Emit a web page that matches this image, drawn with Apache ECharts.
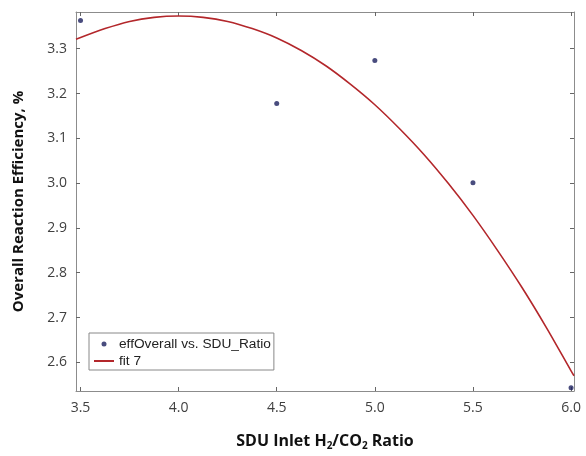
<!DOCTYPE html>
<html>
<head>
<meta charset="utf-8">
<script src="https://cdn.jsdelivr.net/npm/echarts@6/dist/echarts.min.js"></script>
<style>
  html, body { margin: 0; padding: 0; background: #fff; }
  #chart { width: 586px; height: 456px; }
</style>
</head>
<body>
<div id="chart"></div>
<script>
// measured points
const ratio = [3.5, 4.5, 5.0, 5.5, 6.0];
const effOverall = [3.363, 3.178, 3.274, 3.001, 2.543];

// fit 7 curve
const fitX = [3.477, 3.625, 3.75, 3.875, 4.0, 4.125, 4.25, 4.375, 4.5, 4.625, 4.75,
              4.875, 5.0, 5.125, 5.25, 5.375, 5.5, 5.625, 5.75, 5.875, 6.0, 6.015];
const fitY = [3.321, 3.345, 3.361, 3.370, 3.373, 3.370, 3.361, 3.345, 3.324, 3.296, 3.262,
              3.221, 3.175, 3.122, 3.064, 2.999, 2.928, 2.850, 2.767, 2.677, 2.581, 2.570];

const xTicks = [3.5, 4.0, 4.5, 5.0, 5.5, 6.0];
const yTicks = [2.6, 2.7, 2.8, 2.9, 3.0, 3.1, 3.2, 3.3];

(function () {
    let chart = echarts.init(document.getElementById('chart'));

    const axisGray = '#8c8c8c';
    const labelFont = {color: '#404040', fontSize: 14, fontFamily: 'Open Sans'};

    function xAxisCfg(pos, showLabel) {
        return {
            type: 'value',
            position: pos,
            min: 3.477,
            max: 6.015,
            splitLine: {show: false},
            axisLine: {show: true, onZero: false, lineStyle: {color: axisGray, width: 1}},
            axisTick: {show: true, inside: true, length: 4, customValues: xTicks, lineStyle: {color: '#666'}},
            axisLabel: Object.assign({show: showLabel, margin: 10, customValues: xTicks,
                formatter: v => v.toFixed(1)}, labelFont)
        };
    }

    function yAxisCfg(pos, showLabel) {
        return {
            type: 'value',
            position: pos,
            min: 2.536,
            max: 3.382,
            splitLine: {show: false},
            axisLine: {show: true, onZero: false, lineStyle: {color: axisGray, width: 1}},
            axisTick: {show: true, inside: true, length: 4, customValues: yTicks, lineStyle: {color: '#666'}},
            axisLabel: Object.assign({show: showLabel, margin: 9, customValues: yTicks,
                formatter: v => v.toFixed(1)}, labelFont)
        };
    }

    let xBottom = xAxisCfg('bottom', true);
    xBottom.name = 'SDU Inlet H{sub|2}/CO{sub|2} Ratio';
    xBottom.nameLocation = 'middle';
    xBottom.nameGap = 40;
    xBottom.nameTextStyle = {
        color: '#111', fontSize: 16, fontWeight: 'bold', fontFamily: 'Open Sans',
        rich: {sub: {fontSize: 10, fontWeight: 'bold', color: '#111', fontFamily: 'Open Sans', padding: [10, 0, 0, 0]}}
    };

    let yLeft = yAxisCfg('left', true);
    yLeft.name = 'Overall Reaction Efficiency, %';
    yLeft.nameLocation = 'middle';
    yLeft.nameGap = 50;
    yLeft.nameTextStyle = {color: '#111', fontSize: 15, fontWeight: 'bold', fontFamily: 'Open Sans'};

    let option = {
        backgroundColor: '#fff',
        animation: false,
        grid: {left: 76, right: 12, top: 12, bottom: 62},
        legend: {
            orient: 'vertical',
            left: 89,
            top: 333,
            itemWidth: 20,
            itemHeight: 5,
            itemGap: 3,
            padding: [4, 3, 2, 4],
            borderColor: '#888',
            borderWidth: 1,
            backgroundColor: '#fff',
            textStyle: {color: '#222', fontSize: 13.7, fontFamily: 'Liberation Sans'},
            data: [
                {name: 'effOverall vs. SDU_Ratio', icon: 'circle'},
                {name: 'fit 7', itemStyle: {opacity: 0}}
            ]
        },
        xAxis: [xBottom, xAxisCfg('top', false)],
        yAxis: [yLeft, yAxisCfg('right', false)],
        series: [
            {
                name: 'fit 7',
                type: 'line',
                smooth: 0.3,
                showSymbol: false,
                symbol: 'none',
                z: 2,
                lineStyle: {color: '#b3272b', width: 1.6},
                itemStyle: {color: '#b3272b'},
                data: fitX.map((x, i) => [x, fitY[i]])
            },
            {
                name: 'effOverall vs. SDU_Ratio',
                type: 'scatter',
                symbolSize: 5,
                z: 3,
                itemStyle: {color: '#1b1f5e'},
                data: ratio.map((x, i) => [x, effOverall[i]])
            }
        ]
    };

    chart.setOption(option);
})();
</script>
</body>
</html>
